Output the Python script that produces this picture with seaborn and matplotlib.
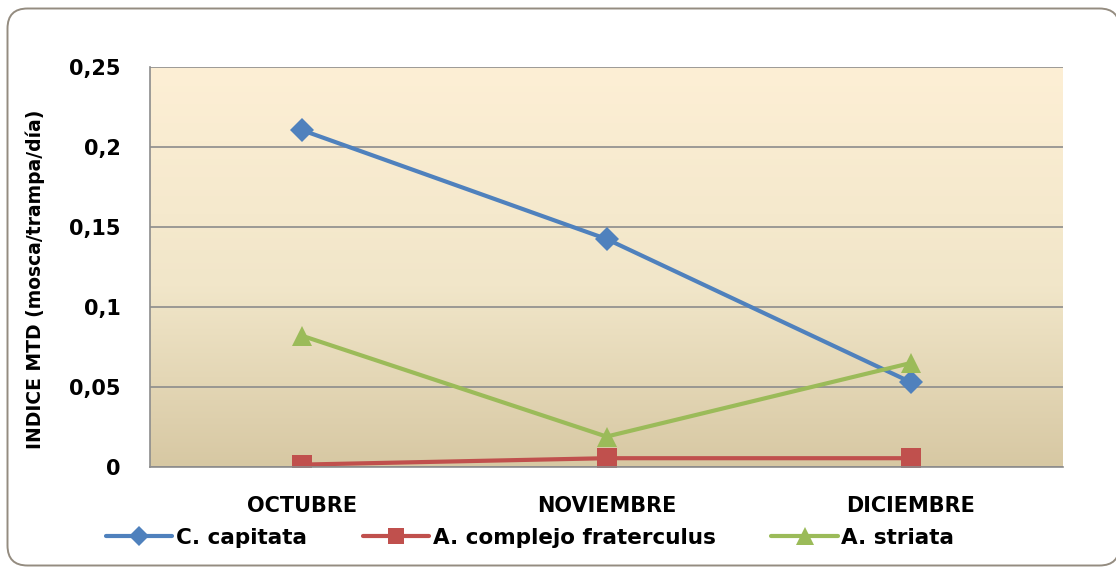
import numpy as np
import pandas as pd
import seaborn as sns
import matplotlib
matplotlib.use("Agg")
import matplotlib.pyplot as plt
from matplotlib.patches import FancyBboxPatch
from matplotlib.transforms import IdentityTransform
from matplotlib.colors import LinearSegmentedColormap

# ---------------- data ----------------
months = ["OCTUBRE", "NOVIEMBRE", "DICIEMBRE"]
series_names = ["C. capitata", "A. complejo fraterculus", "A. striata"]
c_capitata = [0.2105, 0.1425, 0.053]
a_fraterculus = [0.0015, 0.0055, 0.0055]
a_striata = [0.082, 0.019, 0.065]
y_ticks = [0, 0.05, 0.1, 0.15, 0.2, 0.25]
y_tick_labels = ["0", "0,05", "0,1", "0,15", "0,2", "0,25"]
y_label = "INDICE MTD (mosca/trampa/día)"

df = pd.DataFrame({
    "Mes": months * 3,
    "Valor": c_capitata + a_fraterculus + a_striata,
    "Serie": [n for n in series_names for _ in months],
})

colors = {"C. capitata": "#4F81BD",
          "A. complejo fraterculus": "#C0504D",
          "A. striata": "#9BBB59"}
markers = {"C. capitata": "D",
           "A. complejo fraterculus": "s",
           "A. striata": "^"}
msizes = {"D": 12, "s": 14, "^": 15}

sns.set_style("white")
plt.rcParams["font.family"] = ["DejaVu Sans"]
plt.rcParams["text.color"] = "black"
plt.rcParams["xtick.color"] = "black"
plt.rcParams["ytick.color"] = "black"
plt.rcParams["axes.labelcolor"] = "black"

W, H = 1116, 567
fig = plt.figure(figsize=(W / 100, H / 100), dpi=100)
fig.patch.set_facecolor("white")

# outer rounded frame
frame = FancyBboxPatch((7.5, 1.5), 1112, 557,
                       boxstyle="round,pad=0,rounding_size=20",
                       transform=IdentityTransform(),
                       facecolor="white", edgecolor="#948C80", lw=1.4, zorder=0)
fig.add_artist(frame)

pos = [150 / W, 1 - 467 / H, (1063 - 150) / W, 400 / H]

# gradient background
bg = fig.add_axes(pos, zorder=1)
cmap = LinearSegmentedColormap.from_list(
    "bg", [(0.0, (215/255, 200/255, 163/255)),
           (0.45, (241/255, 230/255, 201/255)),
           (1.0, (253/255, 239/255, 213/255))])
grad = np.linspace(1, 0, 256).reshape(-1, 1)
bg.imshow(grad, cmap=cmap, aspect="auto", extent=(0, 1, 0, 1),
          interpolation="bicubic")
bg.axis("off")

ax = fig.add_axes(pos, zorder=2)
ax.patch.set_alpha(0)

sns.lineplot(data=df, x="Mes", y="Valor", hue="Serie", style="Serie",
             palette=colors, markers=markers, dashes=False, sort=False,
             lw=3, markeredgewidth=0, ax=ax)

for line in ax.lines:
    m = line.get_marker()
    if m in msizes:
        line.set_markersize(msizes[m])

ax.set_xlim(-0.5, 2.5)
ax.set_ylim(0, 0.25)
ax.set_yticks(y_ticks)
ax.set_yticklabels(y_tick_labels, fontsize=15, fontweight="bold")
ax.set_xticks(range(len(months)))
ax.set_xticklabels(months, fontsize=15, fontweight="bold")
ax.set_xticks([-0.5, 0.5, 1.5, 2.5], minor=True)
ax.tick_params(axis="x", which="major", length=0, pad=21)
ax.tick_params(axis="x", which="minor", length=7, width=1.2,
               color="#8C8C8C", direction="out")
ax.tick_params(axis="y", length=7, width=1.2, color="#8C8C8C",
               direction="out", pad=14)
ax.set_xlabel("")
ax.set_ylabel(y_label, fontsize=13.5, fontweight="bold")
ax.yaxis.set_label_coords(-0.115, 0.47)

ax.grid(axis="y", color="#8C8C8C", lw=1.2)
ax.set_axisbelow(True)
for s in ["top", "right"]:
    ax.spines[s].set_visible(False)
for s in ["left", "bottom"]:
    ax.spines[s].set_color("#8C8C8C")
    ax.spines[s].set_linewidth(1.2)

sns.move_legend(ax, "center", bbox_to_anchor=(530 / W, 1 - 538 / H),
                bbox_transform=fig.transFigure, ncol=3, frameon=False,
                title=None, handlelength=3.1, handletextpad=0.15,
                columnspacing=2.6, prop={"size": 15.5, "weight": "bold"})
leg = ax.get_legend()
for h in leg.legend_handles:
    h.set_linewidth(3)
    m = h.get_marker()
    if m in msizes:
        h.set_markersize(msizes[m] * 0.85)
    h.set_markeredgewidth(0)
for t in leg.get_texts():
    t.set_color("black")

fig.savefig("out.png", dpi=100)
